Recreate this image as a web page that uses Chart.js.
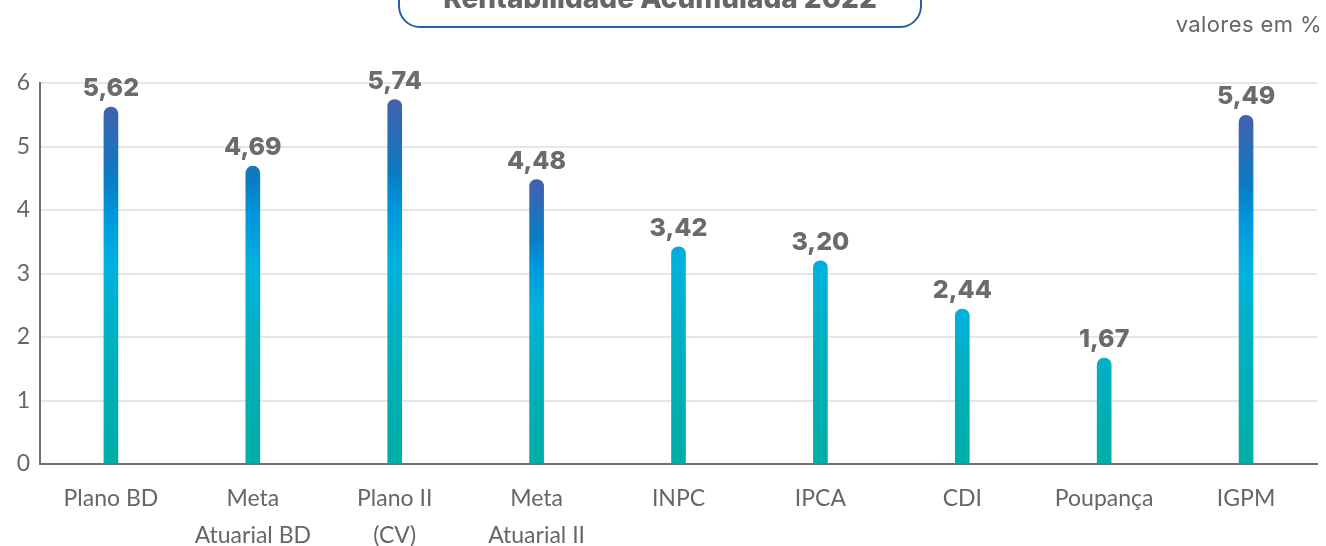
<!DOCTYPE html>
<html>
<head>
<meta charset="utf-8">
<script src="https://cdn.jsdelivr.net/npm/chart.js@4.4.1/dist/chart.umd.min.js"></script>
<style>
  html, body { margin: 0; padding: 0; background: #fff; }
  #wrap { position: relative; width: 1326px; height: 546px; overflow: hidden; }
  #chart { position: absolute; left: 0; top: 0; }
  .title-box {
    position: absolute; left: 398px; top: -30px; width: 520px; height: 54px;
    border: 2px solid #2b5ca8; border-radius: 22px; box-sizing: content-box;
    font: 800 28px "Inter", sans-serif; color: #666; text-align: center;
    line-height: 52px; letter-spacing: 0px;
  }
  .unit {
    position: absolute; right: 4px; top: 11px;
    font: 400 22px "Inter", sans-serif; color: #666; letter-spacing: 0.4px;
  }
</style>
</head>
<body>
<div id="wrap">
  <canvas id="chart" width="1326" height="546"></canvas>
  <div class="title-box">Rentabilidade Acumulada 2022</div>
  <div class="unit">valores em %</div>
</div>
<script>
const categories = [
  'Plano BD', ['Meta', 'Atuarial BD'], ['Plano II', '(CV)'], ['Meta', 'Atuarial II'],
  'INPC', 'IPCA', 'CDI', 'Poupança', 'IGPM'
];
const values = [5.62, 4.69, 5.74, 4.48, 3.42, 3.20, 2.44, 1.67, 5.49];
const yTicks = [0, 1, 2, 3, 4, 5, 6];

// colour ramp from bottom (0) to top (1); each bar uses the ramp up to its own end
const RAMP = [
  [0.00, [0, 173, 166]],
  [0.35, [0, 176, 192]],
  [0.55, [0, 178, 222]],
  [0.70, [0, 150, 220]],
  [0.80, [10, 124, 194]],
  [1.00, [67, 96, 174]]
];
const RAMP_END = [1, 0.84, 1, 1, 0.6, 0.58, 0.55, 0.42, 1];

function rampColor(p) {
  for (let i = 1; i < RAMP.length; i++) {
    if (p <= RAMP[i][0]) {
      const [p0, c0] = RAMP[i - 1], [p1, c1] = RAMP[i];
      const t = (p - p0) / (p1 - p0);
      const c = c0.map((v, k) => Math.round(v + (c1[k] - v) * t));
      return 'rgb(' + c.join(',') + ')';
    }
  }
  return 'rgb(' + RAMP[RAMP.length - 1][1].join(',') + ')';
}

function barFill(ctx) {
  const chart = ctx.chart;
  if (!chart.chartArea || ctx.type !== 'data') return '#00b0c0';
  const y = chart.scales.y;
  const top = y.getPixelForValue(ctx.raw);
  const bottom = y.getPixelForValue(0);
  const end = RAMP_END[ctx.dataIndex];
  const g = chart.ctx.createLinearGradient(0, bottom, 0, top);
  RAMP.forEach(([p]) => { if (p < end) g.addColorStop(p / end, rampColor(p)); });
  g.addColorStop(1, rampColor(end));
  return g;
}

const valueLabels = {
  id: 'valueLabels',
  afterDatasetsDraw(chart) {
    const { ctx } = chart;
    const meta = chart.getDatasetMeta(0);
    ctx.save();
    ctx.font = '800 25px "Inter", sans-serif';
    ctx.fillStyle = '#6b6b6b';
    ctx.textAlign = 'center';
    ctx.textBaseline = 'alphabetic';
    meta.data.forEach((bar, i) => {
      ctx.fillText(values[i].toFixed(2).replace('.', ','), bar.x, bar.y - 11);
    });
    ctx.restore();
  }
};

new Chart(document.getElementById('chart'), {
  type: 'bar',
  data: {
    labels: categories,
    datasets: [{
      data: values,
      backgroundColor: barFill,
      barThickness: 14,
      borderRadius: { topLeft: 7, topRight: 7, bottomLeft: 0, bottomRight: 0 },
      borderSkipped: false
    }]
  },
  options: {
    responsive: false,
    animation: false,
    layout: { padding: { top: 83, right: 9, left: 0, bottom: 0 } },
    plugins: { legend: { display: false }, tooltip: { enabled: false } },
    scales: {
      x: {
        grid: { display: false },
        border: { color: '#707070', width: 2 },
        ticks: {
          color: '#666', padding: 8, maxRotation: 0, autoSkip: false,
          font: { family: 'Lato', size: 23, lineHeight: 1.6 }
        },
        afterFit(s) { s.height = 82; }
      },
      y: {
        min: 0, max: 6,
        afterBuildTicks(s) { s.ticks = yTicks.map(v => ({ value: v })); },
        grid: { color: '#e6e6e6', lineWidth: 2, drawTicks: false },
        border: { color: '#707070', width: 2 },
        ticks: {
          color: '#666', padding: 10,
          font: { family: 'Lato', size: 23 }
        },
        afterFit(s) { s.width = 40; }
      }
    }
  },
  plugins: [valueLabels]
});
</script>
</body>
</html>
